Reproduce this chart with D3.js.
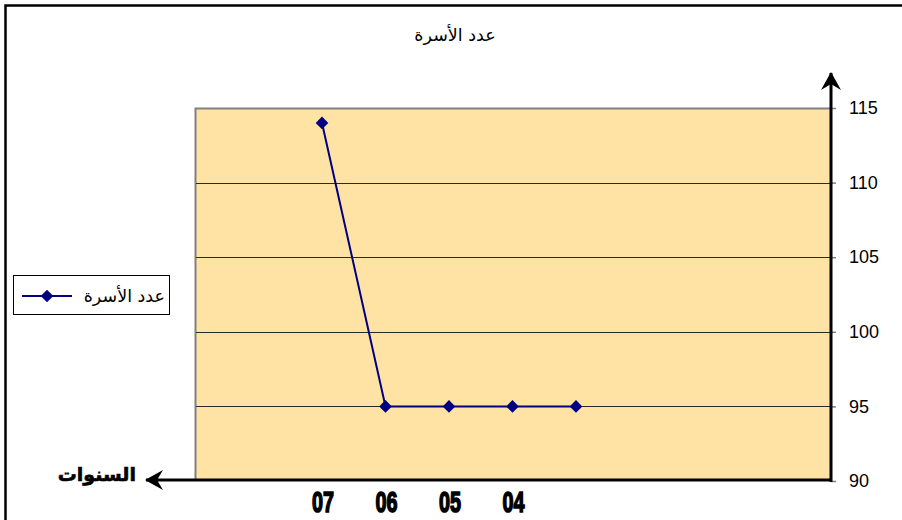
<!DOCTYPE html>
<html>
<head>
<meta charset="utf-8">
<script src="https://cdn.jsdelivr.net/npm/d3@7"></script>
<style>
  html, body { margin: 0; padding: 0; background: #ffffff; }
  svg { display: block; }
</style>
</head>
<body>
<svg id="chart" width="902" height="520"></svg>
<script>
// Category slots along the reversed year axis (right to left); blank slots carry no value.
const slots = [0, 1, 2, 3, 4, 5, 6, 7, 8, 9, 10];
const yearLabels = ["", "", "", "", "", "04", "05", "06", "07", "", ""];
const familyCount = [null, null, null, null, 95, 95, 95, 95, 114, null, null];
const yTicks = [90, 95, 100, 105, 110, 115];

const chartTitle = "عدد الأسرة";
const seriesName = "عدد الأسرة";
const xAxisName = "السنوات";

const W = 902, H = 520;
const plot = { left: 195, right: 831, top: 108, bottom: 481 };

const svg = d3.select("#chart");

// Outer chart frame
svg.append("rect")
  .attr("x", 5.5).attr("y", 5.5)
  .attr("width", W + 20).attr("height", H + 20)
  .attr("fill", "#ffffff")
  .attr("stroke", "#000000").attr("stroke-width", 2.5);

// Scales: categories run right to left
const x = d3.scaleLinear()
  .domain([0, slots.length - 1])
  .range([plot.right - 1, plot.left]);
const y = d3.scaleLinear()
  .domain([90, 115])
  .range([plot.bottom, plot.top]);

// Plot area background
svg.append("rect")
  .attr("x", plot.left).attr("y", plot.top)
  .attr("width", plot.right - plot.left).attr("height", plot.bottom - plot.top)
  .attr("fill", "#FEE3A4")
  .attr("stroke", "none");

// Plot area border (gray)
svg.append("path")
  .attr("d", `M${plot.left + 0.5},${plot.bottom}V${plot.top + 0.5}H${plot.right}`)
  .attr("fill", "none")
  .attr("stroke", "#808080").attr("stroke-width", 2);

// Horizontal gridlines
svg.append("g")
  .selectAll("line")
  .data(yTicks.filter(t => t > 90 && t < 115))
  .join("line")
  .attr("x1", plot.left + 1).attr("x2", plot.right)
  .attr("y1", d => Math.round(y(d)) + 0.5).attr("y2", d => Math.round(y(d)) + 0.5)
  .attr("stroke", "#2a2a2a").attr("stroke-width", 1.2);

// Value axis on the right
const yAxis = d3.axisRight(y)
  .tickValues(yTicks)
  .tickSize(5)
  .tickPadding(13);
const gy = svg.append("g")
  .attr("transform", `translate(${plot.right},0)`)
  .call(yAxis);
gy.select(".domain").remove();
gy.selectAll(".tick line").attr("stroke", "#808080").attr("stroke-width", 1.5);
gy.selectAll(".tick text")
  .attr("fill", "#000000")
  .style("font-family", "Arial, 'Liberation Sans', sans-serif")
  .style("font-size", "18px");

// Arrow heads
const defs = svg.append("defs");
defs.append("marker")
  .attr("id", "arrowHead")
  .attr("viewBox", "0 0 18 20")
  .attr("refX", 17).attr("refY", 10)
  .attr("markerWidth", 18).attr("markerHeight", 20)
  .attr("markerUnits", "userSpaceOnUse")
  .attr("orient", "auto")
  .append("path")
  .attr("d", "M0,0 L18,10 L0,20 L6,10 Z")
  .attr("fill", "#000000");

// Vertical axis line with arrow (up)
svg.append("line")
  .attr("x1", plot.right).attr("x2", plot.right)
  .attr("y1", plot.bottom + 1).attr("y2", 73)
  .attr("stroke", "#000000").attr("stroke-width", 3)
  .attr("marker-end", "url(#arrowHead)");

// Horizontal axis line with arrow (left)
svg.append("line")
  .attr("x1", plot.right).attr("x2", 146)
  .attr("y1", plot.bottom - 1).attr("y2", plot.bottom - 1)
  .attr("stroke", "#000000").attr("stroke-width", 3)
  .attr("marker-end", "url(#arrowHead)");

// Year labels under the axis (heavy, condensed)
svg.append("g")
  .selectAll("text")
  .data(slots.filter(i => yearLabels[i] !== ""))
  .join("text")
  .attr("transform", i => `translate(${x(i) + 1},512) scale(0.66,1)`)
  .attr("text-anchor", "middle")
  .attr("fill", "#000000")
  .attr("stroke", "#000000").attr("stroke-width", 1.6)
  .style("font-family", "'Liberation Sans', Arial, sans-serif")
  .style("font-weight", "bold")
  .style("font-size", "30px")
  .text(i => yearLabels[i]);

// Axis name
svg.append("text")
  .attr("x", 136).attr("y", 481)
  .attr("text-anchor", "start")
  .attr("direction", "rtl")
  .attr("fill", "#000000")
  .attr("stroke", "#000000").attr("stroke-width", 0.6)
  .style("font-family", "'DejaVu Sans', 'Noto Sans', sans-serif")
  .style("font-weight", "bold")
  .style("font-size", "19px")
  .text(xAxisName);

// Data series
const points = slots.filter(i => familyCount[i] !== null).map(i => ({ i, v: familyCount[i] }));
const line = d3.line().x(d => x(d.i)).y(d => y(d.v));
svg.append("path")
  .datum(points)
  .attr("d", line)
  .attr("fill", "none")
  .attr("stroke", "#000080").attr("stroke-width", 2);

const diamond = d3.symbol().type(d3.symbolSquare).size(80);
svg.append("g")
  .selectAll("path")
  .data(points)
  .join("path")
  .attr("d", diamond)
  .attr("transform", d => `translate(${x(d.i)},${y(d.v)}) rotate(45)`)
  .attr("fill", "#000080");

// Title
svg.append("text")
  .attr("x", 455).attr("y", 41)
  .attr("text-anchor", "middle")
  .attr("direction", "rtl")
  .attr("fill", "#000000")
  .style("font-family", "'DejaVu Sans', 'Noto Sans', sans-serif")
  .style("font-size", "17.5px")
  .text(chartTitle);

// Legend
const legend = svg.append("g");
legend.append("rect")
  .attr("x", 13.5).attr("y", 275.5)
  .attr("width", 156).attr("height", 39)
  .attr("fill", "#ffffff")
  .attr("stroke", "#000000").attr("stroke-width", 1);
legend.append("line")
  .attr("x1", 22).attr("x2", 72)
  .attr("y1", 296).attr("y2", 296)
  .attr("stroke", "#000080").attr("stroke-width", 2);
legend.append("path")
  .attr("d", diamond)
  .attr("transform", "translate(47,296) rotate(45)")
  .attr("fill", "#000080");
legend.append("text")
  .attr("x", 165).attr("y", 302)
  .attr("text-anchor", "start")
  .attr("direction", "rtl")
  .attr("fill", "#000000")
  .style("font-family", "'DejaVu Sans', 'Noto Sans', sans-serif")
  .style("font-size", "17.5px")
  .text(seriesName);
</script>
</body>
</html>
